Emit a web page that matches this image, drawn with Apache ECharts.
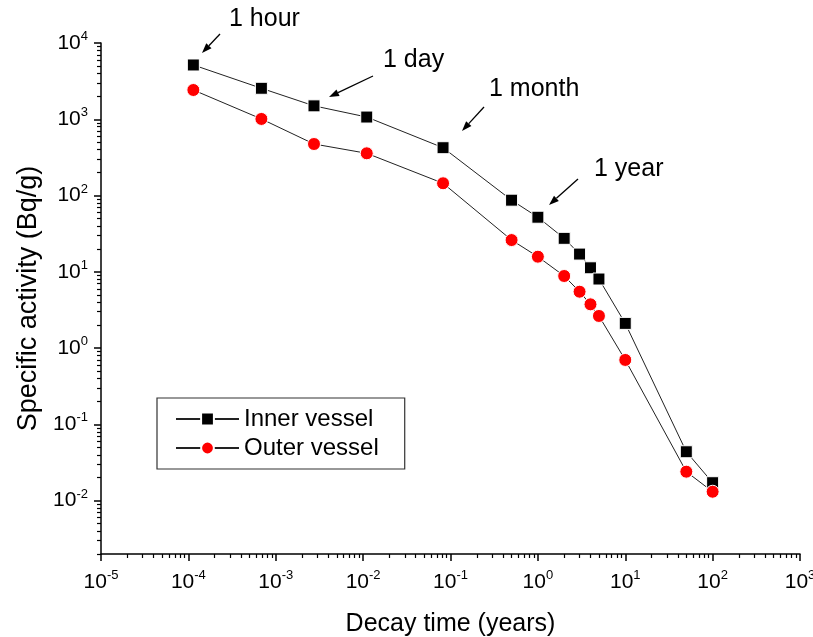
<!DOCTYPE html>
<html>
<head>
<meta charset="utf-8">
<style>html,body{margin:0;padding:0;width:813px;height:637px;background:#fff;overflow:hidden;}#chart{width:813px;height:637px;}</style>
<script src="https://cdn.jsdelivr.net/npm/echarts@6/dist/echarts.min.js"></script>
</head>
<body>
<div id="chart"></div>
<script>
// decay time in years
var decayTime = [1.14e-4, 6.85e-4, 2.74e-3, 1.1e-2, 8.22e-2, 0.5, 1, 2, 3, 4, 5, 10, 50, 100];
// specific activity, Bq/g
var innerVessel = [5150, 2550, 1500, 1070, 424, 87, 52, 27.5, 17.1, 11.3, 8.05, 2.11, 0.0438, 0.0172];
var outerVessel = [2420, 1010, 474, 358, 145, 26.1, 15.8, 8.82, 5.49, 3.75, 2.64, 0.70, 0.024, 0.0131];
var xDecades = [-5, -4, -3, -2, -1, 0, 1, 2, 3];
var yDecades = [-2, -1, 0, 1, 2, 3, 4];
var yMinValue = 0.002, yMaxValue = 1e4;
var notes = [
  { text: "1 hour", tx: 229, ty: 21, from: [220, 34], to: [202, 53] },
  { text: "1 day", tx: 383, ty: 62, from: [373, 76], to: [329, 97] },
  { text: "1 month", tx: 489, ty: 91, from: [484, 107], to: [462, 131] },
  { text: "1 year", tx: 594, ty: 171, from: [578, 179], to: [549, 205] }
];

var FONT = "Liberation Sans, Arial, sans-serif";
var lg = Math.log10;

function minorTicks(lo, hi) {
  var out = [];
  for (var n = lo; n <= hi; n++) {
    for (var k = 2; k <= 9; k++) out.push(lg(k * Math.pow(10, n)));
  }
  return out;
}
function powLabel(v) {
  return "{b|10}{s|" + Math.round(v) + "}";
}
var richPow = {
  b: { fontSize: 21, fontFamily: FONT, color: "#000", lineHeight: 26 },
  s: { fontSize: 13, fontFamily: FONT, color: "#000", lineHeight: 26, padding: [0, 0, 13, 0] }
};

function pairs(ys) {
  return decayTime.map(function (t, i) { return [lg(t), lg(ys[i])]; });
}

var graphics = [];
notes.forEach(function (n) {
  graphics.push({
    type: "text", left: n.tx, top: n.ty - 14,
    style: { text: n.text, font: "25px " + FONT, fill: "#000" }
  });
  var dx = n.to[0] - n.from[0], dy = n.to[1] - n.from[1];
  var len = Math.sqrt(dx * dx + dy * dy), ux = dx / len, uy = dy / len;
  var hl = 10, hw = 3.6;
  var bx = n.to[0] - ux * hl, by = n.to[1] - uy * hl;
  graphics.push({
    type: "line",
    shape: { x1: n.from[0], y1: n.from[1], x2: bx, y2: by },
    style: { stroke: "#000", lineWidth: 1.3 }
  });
  graphics.push({
    type: "polygon",
    shape: { points: [n.to, [bx - uy * hw, by + ux * hw], [bx + uy * hw, by - ux * hw]] },
    style: { fill: "#000" }
  });
});

var chart = echarts.init(document.getElementById("chart"), null, { renderer: "canvas" });
chart.setOption({
  backgroundColor: "#fff",
  animation: false,
  grid: { left: 101, right: 13, top: 43, bottom: 83, containLabel: false, outerBoundsMode: "none" },
  legend: {
    orient: "vertical",
    left: 157, top: 398,
    padding: [9, 26, 9, 18],
    borderColor: "#333", borderWidth: 1.2,
    itemWidth: 63, itemHeight: 16, itemGap: 5,
    textStyle: { fontSize: 24, fontFamily: FONT, color: "#000" },
    data: ["Inner vessel", "Outer vessel"]
  },
  xAxis: [
    {
      type: "value", min: -5, max: 3, interval: 1,
      name: "Decay time (years)", nameLocation: "middle", nameGap: 58,
      nameTextStyle: { fontSize: 25, fontFamily: FONT, color: "#000" },
      axisLine: { onZero: false, lineStyle: { color: "#000", width: 1.5 } },
      axisTick: { length: 7, lineStyle: { color: "#000", width: 1.5 } },
      axisLabel: { formatter: powLabel, rich: richPow, margin: 15 },
      splitLine: { show: false }
    },
    {
      type: "value", min: -5, max: 3, position: "bottom",
      axisLine: { show: false, onZero: false },
      axisLabel: { show: false },
      axisTick: { length: 4, customValues: minorTicks(-5, 2), lineStyle: { color: "#000", width: 1.2 } },
      splitLine: { show: false }
    }
  ],
  yAxis: [
    {
      type: "value", min: lg(yMinValue), max: lg(yMaxValue),
      name: "Specific activity (Bq/g)", nameLocation: "middle", nameGap: 58,
      nameTextStyle: { fontSize: 27, fontFamily: FONT, color: "#000" },
      axisLine: { show: true, onZero: false, lineStyle: { color: "#000", width: 1.5 } },
      axisTick: { show: true, length: 7, customValues: yDecades, lineStyle: { color: "#000", width: 1.5 } },
      axisLabel: { customValues: yDecades, formatter: powLabel, rich: richPow, margin: 13 },
      splitLine: { show: false }
    },
    {
      type: "value", min: lg(yMinValue), max: lg(yMaxValue), position: "left",
      axisLine: { show: false, onZero: false },
      axisLabel: { show: false },
      axisTick: { show: true, length: 4, customValues: minorTicks(-3, 3), lineStyle: { color: "#000", width: 1.2 } },
      splitLine: { show: false }
    }
  ],
  series: [
    {
      name: "Inner vessel", type: "line", xAxisIndex: 0, yAxisIndex: 0,
      data: pairs(innerVessel),
      symbol: "rect", symbolSize: 12,
      lineStyle: { color: "#222", width: 1 },
      itemStyle: { color: "#000", borderColor: "#fff", borderWidth: 1 }
    },
    {
      name: "Outer vessel", type: "line", xAxisIndex: 0, yAxisIndex: 0,
      data: pairs(outerVessel),
      symbol: "circle", symbolSize: 13,
      lineStyle: { color: "#222", width: 1 },
      itemStyle: { color: "#ff0000", borderColor: "#fff", borderWidth: 1 }
    }
  ],
  graphic: graphics
});
</script>
</body>
</html>
